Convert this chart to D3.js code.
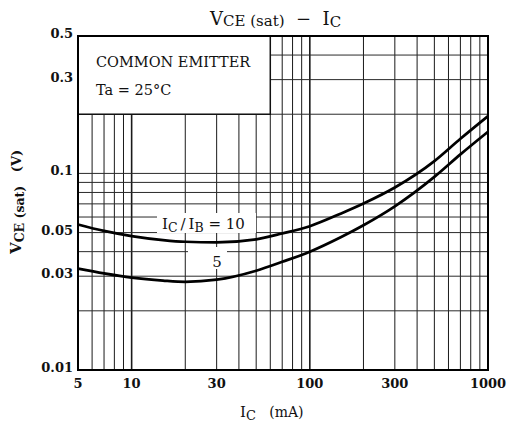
<!DOCTYPE html>
<html>
<head>
<meta charset="utf-8">
<script src="https://cdn.jsdelivr.net/npm/d3@7"></script>
<style>
  body { margin: 0; background: #fff; }
  svg text { font-family: "DejaVu Serif", "Liberation Serif", serif; fill: #111; white-space: pre; }
</style>
</head>
<body>
<div id="chart"></div>
<script>
// collector current (mA) and VCE(sat) (V)
const currents = [5, 7, 10, 15, 20, 30, 50, 70, 100, 150, 200, 300, 500, 700, 1000];
const ratio10 = [0.055, 0.051, 0.048, 0.0458, 0.0449, 0.0446, 0.0462, 0.0495, 0.0539, 0.0626, 0.0703, 0.0848, 0.1155, 0.150, 0.1956];
const ratio5 = [0.0328, 0.031, 0.0295, 0.0285, 0.0281, 0.0288, 0.032, 0.0355, 0.040, 0.0475, 0.0545, 0.068, 0.096, 0.125, 0.163];

const xTickLabels = [5, 10, 30, 100, 300, 1000];
const yTickLabels = [0.01, 0.03, 0.05, 0.1, 0.3, 0.5];

const W = 508, H = 428;
const margin = { top: 36, left: 78, right: 20, bottom: 58 };
const w = W - margin.left - margin.right,
    h = H - margin.top - margin.bottom;

let svg = d3.select("#chart").append("svg")
    .attr("width", W)
    .attr("height", H);

let x = d3.scaleLog().domain([5, 1000]).range([margin.left, margin.left + w]);
let y = d3.scaleLog().domain([0.01, 0.5]).range([margin.top + h, margin.top]);

// grid
let grid = svg.append("g").attr("class", "grid");
x.ticks().forEach(function (v) {
    let decade = Math.abs(Math.log10(v) - Math.round(Math.log10(v))) < 1e-9;
    grid.append("line")
        .attr("x1", x(v)).attr("x2", x(v))
        .attr("y1", y(0.01)).attr("y2", y(0.5))
        .attr("stroke", "#1a1a1a")
        .attr("stroke-width", decade ? 1.6 : 1);
});
y.ticks().forEach(function (v) {
    grid.append("line")
        .attr("x1", x(5)).attr("x2", x(1000))
        .attr("y1", y(v)).attr("y2", y(v))
        .attr("stroke", "#2a2a2a")
        .attr("stroke-width", 1);
});

// legend box, top left
svg.append("rect")
    .attr("x", x(5)).attr("y", y(0.5))
    .attr("width", x(60) - x(5))
    .attr("height", y(0.2) - y(0.5))
    .attr("fill", "#fff")
    .attr("stroke", "#111")
    .attr("stroke-width", 1.5);

svg.append("text")
    .attr("x", 96).attr("y", 67)
    .attr("font-size", 14.5)
    .text("COMMON EMITTER");
svg.append("text")
    .attr("x", 96).attr("y", 95)
    .attr("font-size", 14.5)
    .text("Ta = 25°C");

// curves
let line = d3.line()
    .x(function (d) { return x(d[0]); })
    .y(function (d) { return y(d[1]); })
    .curve(d3.curveMonotoneX);

[ratio10, ratio5].forEach(function (s) {
    svg.append("path")
        .datum(currents.map(function (c, i) { return [c, s[i]]; }))
        .attr("d", line)
        .attr("fill", "none")
        .attr("stroke", "#000")
        .attr("stroke-width", 2.7);
});

// curve labels on white patches
svg.append("rect").attr("x", 157).attr("y", 213).attr("width", 99).attr("height", 20).attr("fill", "#fff");
let lab = svg.append("text").attr("x", 162).attr("y", 229).attr("font-size", 15);
lab.append("tspan").text("I");
lab.append("tspan").attr("font-size", 12.5).attr("dy", 3).text("C");
lab.append("tspan").attr("dy", -3).text("\u2009/\u2009I");
lab.append("tspan").attr("font-size", 12.5).attr("dy", 3).text("B");
lab.append("tspan").attr("dy", -3).text(" = 10");

svg.append("rect").attr("x", 188).attr("y", 247).attr("width", 39).attr("height", 22).attr("fill", "#fff");
svg.append("text").attr("x", 217).attr("y", 267).attr("font-size", 15)
    .attr("text-anchor", "middle").text("5");

// frame
svg.append("rect")
    .attr("x", margin.left).attr("y", margin.top)
    .attr("width", w).attr("height", h)
    .attr("fill", "none")
    .attr("stroke", "#000")
    .attr("stroke-width", 2);

// tick labels
svg.selectAll(".xlab")
    .data(xTickLabels)
    .enter().append("text")
    .attr("class", "xlab")
    .attr("x", function (d) { return x(d); })
    .attr("y", 388)
    .attr("text-anchor", "middle")
    .attr("font-size", 13)
    .attr("font-weight", "bold")
    .text(function (d) { return d; });

svg.selectAll(".ylab")
    .data(yTickLabels)
    .enter().append("text")
    .attr("class", "ylab")
    .attr("x", 73)
    .attr("y", function (d) { return y(d) + 2; })
    .attr("text-anchor", "end")
    .attr("font-size", 13)
    .attr("font-weight", "bold")
    .text(function (d) { return d; });

// title
let title = svg.append("text").attr("x", 210).attr("y", 25)
    .attr("font-size", 18);
title.append("tspan").text("V");
title.append("tspan").attr("font-size", 15).attr("dy", 1).text("CE (sat)");
title.append("tspan").attr("dy", -1).text("  −  I");
title.append("tspan").attr("font-size", 15).attr("dy", 2).text("C");

// axis titles
let xt = svg.append("text").attr("x", 240).attr("y", 417)
    .attr("font-size", 15);
xt.append("tspan").text("I");
xt.append("tspan").attr("font-size", 13).attr("dy", 3).text("C");
xt.append("tspan").attr("dy", -3).attr("font-size", 14).text("   (mA)");

let yt = svg.append("text")
    .attr("transform", "translate(21,254) rotate(-90)")
    .attr("font-size", 15).attr("font-weight", "bold");
yt.append("tspan").text("V");
yt.append("tspan").attr("font-size", 12.5).attr("dy", 3).text("CE (sat)");
yt.append("tspan").attr("dy", -3).attr("font-size", 13).text("   (V)");
</script>
</body>
</html>
